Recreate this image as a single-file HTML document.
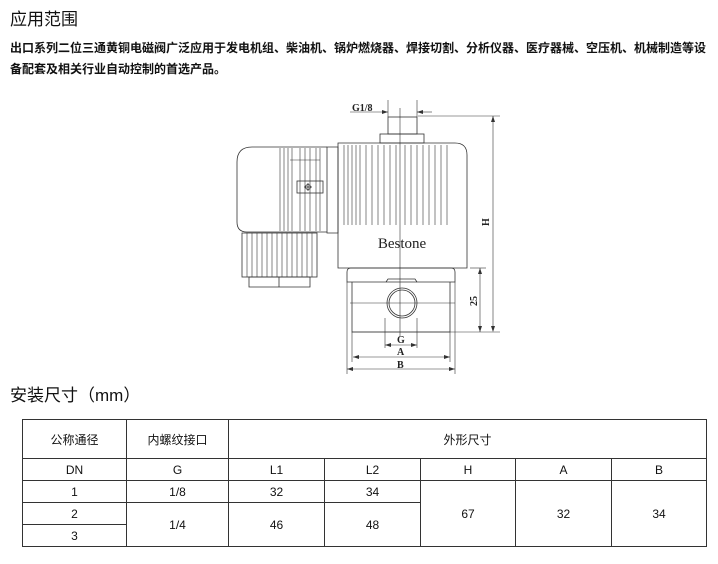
<!DOCTYPE html>
<html><head><meta charset="utf-8"><style>
body{margin:0;width:718px;height:564px;background:#fff;position:relative;overflow:hidden;font-family:"Liberation Sans","Noto Sans CJK SC",sans-serif;color:#111}
.t{position:absolute;white-space:nowrap}
table{position:absolute;left:22px;top:419px;border-collapse:collapse;font-size:12px}
td{border:1.5px solid #333;text-align:center;padding:0;height:21px}
</style></head><body>
<div class="t" style="left:10px;top:5px;font-size:17px">应用范围</div>
<div class="t" style="left:10px;top:39px;font-size:12px;font-weight:bold;letter-spacing:0">出口系列二位三通黄铜电磁阀广泛应用于发电机组、柴油机、锅炉燃烧器、焊接切割、分析仪器、医疗器械、空压机、机械制造等设</div>
<div class="t" style="left:10px;top:60px;font-size:12px;font-weight:bold">备配套及相关行业自动控制的首选产品。</div>
<div class="t" style="left:10px;top:381px;font-size:17px">安装尺寸（mm）</div>
<svg style="position:absolute;left:0;top:0" width="718" height="400" fill="none" stroke="#333" stroke-width="0.8">
<rect x="388" y="117" width="29" height="17"/>
<rect x="380" y="134" width="44" height="9"/>
<path d="M338 143 H455 Q467 143 467 155 V268 H338 Z"/>
<path d="M327 147 H338 V233 H327 Z"/>
<g stroke-width="0.6">
<line x1="344" y1="145" x2="344" y2="225"/><line x1="348" y1="145" x2="348" y2="225"/><line x1="352" y1="145" x2="352" y2="225"/><line x1="356" y1="145" x2="356" y2="225"/><line x1="360" y1="145" x2="360" y2="225"/><line x1="366" y1="145" x2="366" y2="225"/><line x1="372" y1="145" x2="372" y2="225"/><line x1="378" y1="145" x2="378" y2="225"/><line x1="384" y1="145" x2="384" y2="225"/><line x1="390" y1="145" x2="390" y2="225"/><line x1="396" y1="145" x2="396" y2="225"/><line x1="405" y1="145" x2="405" y2="225"/><line x1="411" y1="145" x2="411" y2="225"/><line x1="417" y1="145" x2="417" y2="225"/><line x1="423" y1="145" x2="423" y2="225"/><line x1="429" y1="145" x2="429" y2="225"/><line x1="435" y1="145" x2="435" y2="225"/><line x1="441" y1="145" x2="441" y2="225"/><line x1="447" y1="145" x2="447" y2="225"/>
</g>
<path d="M327 147 H252 Q237 147 237 162 V222 Q237 232 247 232 H327"/>
<g stroke-width="0.6">
<line x1="280" y1="148" x2="280" y2="231"/><line x1="284" y1="148" x2="284" y2="231"/><line x1="288" y1="148" x2="288" y2="231"/><line x1="292" y1="148" x2="292" y2="231"/><line x1="300" y1="148" x2="300" y2="231"/><line x1="305" y1="148" x2="305" y2="231"/><line x1="310" y1="148" x2="310" y2="231"/><line x1="316" y1="148" x2="316" y2="231"/><line x1="320" y1="148" x2="320" y2="231"/>
<line x1="290" y1="160" x2="320" y2="160"/>
</g>
<rect x="297" y="181" width="26" height="12"/>
<circle cx="308" cy="187" r="2.5"/><line x1="304" y1="187" x2="312" y2="187"/><line x1="308" y1="183" x2="308" y2="191"/>
<rect x="242" y="233" width="75" height="44"/>
<g stroke-width="0.6">
<line x1="247" y1="233" x2="247" y2="277"/><line x1="252" y1="233" x2="252" y2="277"/><line x1="257" y1="233" x2="257" y2="277"/><line x1="262" y1="233" x2="262" y2="277"/><line x1="267" y1="233" x2="267" y2="277"/><line x1="272" y1="233" x2="272" y2="277"/><line x1="277" y1="233" x2="277" y2="277"/><line x1="282" y1="233" x2="282" y2="277"/><line x1="287" y1="233" x2="287" y2="277"/><line x1="292" y1="233" x2="292" y2="277"/><line x1="297" y1="233" x2="297" y2="277"/><line x1="302" y1="233" x2="302" y2="277"/><line x1="307" y1="233" x2="307" y2="277"/><line x1="312" y1="233" x2="312" y2="277"/>
</g>
<path d="M249 277 H310 V287 H249 Z"/><line x1="279" y1="277" x2="279" y2="287"/>
<path d="M347 282 V272 Q347 268 351 268 H451 Q455 268 455 272 V282 Z"/>
<path d="M352 282 V332 H450 V282"/>
<path d="M386 282 L388 279 H415 L417 282"/>
<circle cx="402" cy="303" r="15"/><circle cx="402" cy="303" r="13"/>
<line x1="350" y1="303" x2="455" y2="303" stroke-width="0.5"/>
<line x1="400" y1="108" x2="400" y2="336" stroke-width="0.6"/>
<g stroke-width="0.6">
<line x1="388" y1="100" x2="388" y2="117"/><line x1="417" y1="100" x2="417" y2="117"/>
<line x1="350" y1="112" x2="388" y2="112"/><line x1="417" y1="112" x2="432" y2="112"/>
<line x1="418" y1="116" x2="500" y2="116"/><line x1="352" y1="332" x2="500" y2="332"/>
<line x1="493" y1="116" x2="493" y2="330"/><line x1="470" y1="268" x2="486" y2="268"/>
<line x1="480" y1="268" x2="480" y2="332"/>
<line x1="385" y1="318" x2="385" y2="348"/><line x1="417" y1="318" x2="417" y2="348"/>
<line x1="385" y1="345" x2="417" y2="345"/>
<line x1="352" y1="332" x2="352" y2="362"/><line x1="450" y1="332" x2="450" y2="362"/>
<line x1="353" y1="357" x2="450" y2="357"/>
<line x1="347" y1="282" x2="347" y2="374"/><line x1="455" y1="282" x2="455" y2="374"/>
<line x1="347" y1="369" x2="455" y2="369"/>
</g>
<g fill="#333" stroke="none">
<path d="M388 112 l-6 -2 v4z"/><path d="M417 112 l6 -2 v4z"/>
<path d="M493 116 l-2 6 h4z"/><path d="M493 332 l-2 -6 h4z"/>
<path d="M480 268 l-2 6 h4z"/><path d="M480 332 l-2 -6 h4z"/>
<path d="M385 345 l6 -2 v4z"/><path d="M417 345 l-6 -2 v4z"/>
<path d="M353 357 l6 -2 v4z"/><path d="M450 357 l-6 -2 v4z"/>
<path d="M347 369 l6 -2 v4z"/><path d="M455 369 l-6 -2 v4z"/>
</g>
<g fill="#222" stroke="none" font-family="Liberation Serif,serif" font-weight="bold" font-size="10">
<text x="352" y="111">G1/8</text>
<text x="397" y="343">G</text>
<text x="397" y="355">A</text>
<text x="397" y="368">B</text>
<text transform="translate(489,226) rotate(-90)">H</text>
<text transform="translate(477,306) rotate(-90)">25</text>
</g>
<text x="402" y="248" text-anchor="middle" fill="#222" stroke="none" font-family="Liberation Serif,serif" font-size="15">Bestone</text>
</svg>
<table>
<tr><td style="width:103px;height:38px">公称通径</td><td style="width:101px">内螺纹接口</td><td colspan="5">外形尺寸</td></tr>
<tr><td>DN</td><td>G</td><td style="width:95px">L1</td><td style="width:95px">L2</td><td style="width:94px">H</td><td style="width:95px">A</td><td style="width:94px">B</td></tr>
<tr><td>1</td><td>1/8</td><td>32</td><td>34</td><td rowspan="3">67</td><td rowspan="3">32</td><td rowspan="3">34</td></tr>
<tr><td>2</td><td rowspan="2">1/4</td><td rowspan="2">46</td><td rowspan="2">48</td></tr>
<tr><td>3</td></tr>
</table>
</body></html>
